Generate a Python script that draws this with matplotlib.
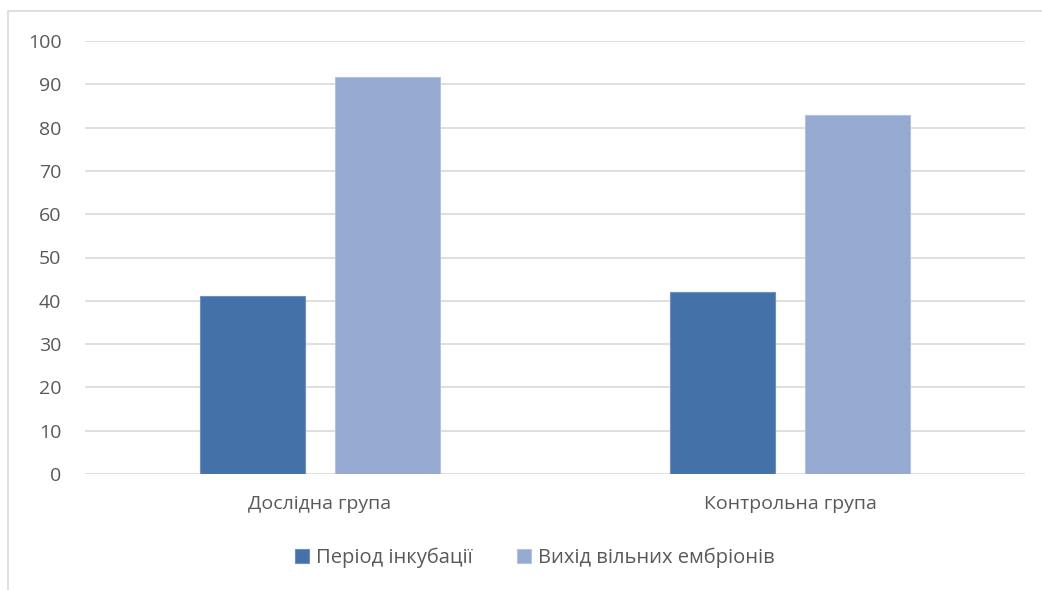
import matplotlib
matplotlib.use("Agg")
import matplotlib.pyplot as plt
import numpy as np
from matplotlib.patches import Rectangle

categories = ["Дослідна група", "Контрольна група"]
series_names = ["Період інкубації", "Вихід вільних ембріонів"]
incubation = [41, 42]
free_embryos = [91.7, 82.9]
yticks = [0, 10, 20, 30, 40, 50, 60, 70, 80, 90, 100]

plt.rcParams['font.family'] = ['Open Sans', 'DejaVu Sans']
W, H = 1042, 590
fig = plt.figure(figsize=(W/100, H/100), dpi=100)
ax = fig.add_axes([85/W, 1-474/H, 940/W, (474-41)/H])

x = np.arange(len(categories))
bw = 0.224
off = 0.1435
c1 = "#4472A8"
c2 = "#95A9D1"
ax.bar(x - off, incubation, bw, color=c1, edgecolor="#6E8FC0", linewidth=0.8, label=series_names[0], zorder=3)
ax.bar(x + off, free_embryos, bw, color=c2, edgecolor="#B4C3E0", linewidth=0.8, label=series_names[1], zorder=3)

ax.set_xlim(-0.5, len(categories) - 0.5)
ax.set_ylim(0, 100)
ax.set_yticks(yticks)
ax.set_xticks(x)
ax.set_xticklabels(categories)
ax.yaxis.grid(True, color="#D9D9D9", linewidth=1.2, zorder=0)
for s in ax.spines.values():
    s.set_visible(False)
ax.tick_params(axis='both', length=0, labelsize=14, colors="#595959")
ax.tick_params(axis='y', pad=17)
ax.tick_params(axis='x', pad=15)

# outer chart frame (clipped at right and bottom)
fig.patches.append(Rectangle((8/W, -0.1), 1.2, 1 - 11/H + 0.1, transform=fig.transFigure,
                             fill=False, edgecolor="#D9D9D9", linewidth=1.2))

leg = fig.legend(loc="center", bbox_to_anchor=(535/W, 1 - 558/H), ncol=2, frameon=False,
                 fontsize=14.5, handlelength=0.7, handleheight=0.7, columnspacing=2.2,
                 handletextpad=0.35)
for t in leg.get_texts():
    t.set_color("#595959")

fig.savefig("out.png", dpi=100)
